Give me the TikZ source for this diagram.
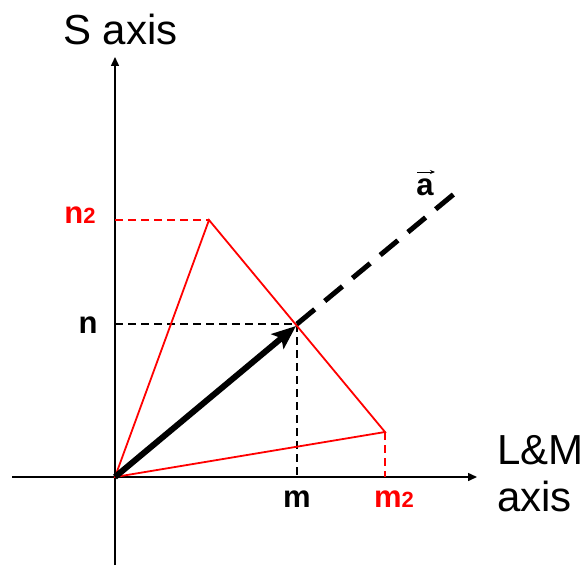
\documentclass[tikz,border=0pt]{standalone}
\usepackage{fontspec}
\setmainfont{Liberation Sans}
\usetikzlibrary{arrows.meta}
\begin{document}
\begin{tikzpicture}[x=1pt,y=-1pt,
 axisline/.style={line width=1.5pt,-{Triangle[length=9pt,width=8pt]}},
 redline/.style={red,line width=1.8pt},
 guide/.style={line width=1.2pt,dash pattern=on 8pt off 5pt},
 vecline/.style={line width=6pt,-{Stealth[length=24pt,width=19pt,inset=5pt]}},
 axisdash/.style={line width=5pt,dash pattern=on 23pt off 13pt},
 biglabel/.style={font=\fontsize{42}{48}\selectfont,inner sep=0pt},
 boldlabel/.style={font=\fontsize{31}{34}\selectfont\bfseries,inner sep=0pt},
 vecarrow/.style={line width=0.9pt,-{Stealth[length=5pt,width=4pt]}}]
\useasboundingbox (0,0) rectangle (585,567);
% points
\coordinate (O) at (115,477);
\coordinate (Ybot) at (115,565);
\coordinate (Ytop) at (115,57);
\coordinate (Xl) at (12,477);
\coordinate (Xr) at (477,477);
\coordinate (P) at (297,324);
\coordinate (Tip) at (296,326);
\coordinate (T) at (209,220);
\coordinate (R) at (385,432);
\coordinate (E) at (460,189);
\coordinate (N) at (115,324);
\coordinate (M) at (297,477);
\coordinate (N2) at (115,220);
\coordinate (M2) at (385,477);
\coordinate (Va) at (417,172);
\coordinate (Vb) at (435,172);
% axes
\draw[axisline] (Ybot) -- (Ytop);
\draw[axisline] (Xl) -- (Xr);
% guides
\draw[guide] (N) -- (P) -- (M);
\draw[guide,red] (N2) -- (T);
\draw[guide,red] (R) -- (M2);
% red triangle
\draw[redline] (O) -- (T) -- (R) -- cycle;
% vector
\draw[axisdash] (P) -- (E);
\draw[vecline] (O) -- (Tip);
% labels
\node[biglabel,anchor=base west] (sax) at (63,45) {S axis};
\node[biglabel,anchor=base west] (lm) at (497,464) {L\&M};
\node[biglabel,anchor=base west] (lmax) at (497,511) {axis};
\node[boldlabel,anchor=base] (ml) at (297,507) {m};
\node[boldlabel,anchor=base,red] (m2l) at (394,507) {m{\fontsize{22}{24}\selectfont 2}};
\node[boldlabel,anchor=base] (nl) at (88,333) {n};
\node[boldlabel,anchor=base,red] (n2l) at (80,223) {n{\fontsize{22}{24}\selectfont 2}};
\node[boldlabel,anchor=base] (al) at (425,195) {a};
\draw[vecarrow] (Va) -- (Vb);
\end{tikzpicture}
\end{document}
